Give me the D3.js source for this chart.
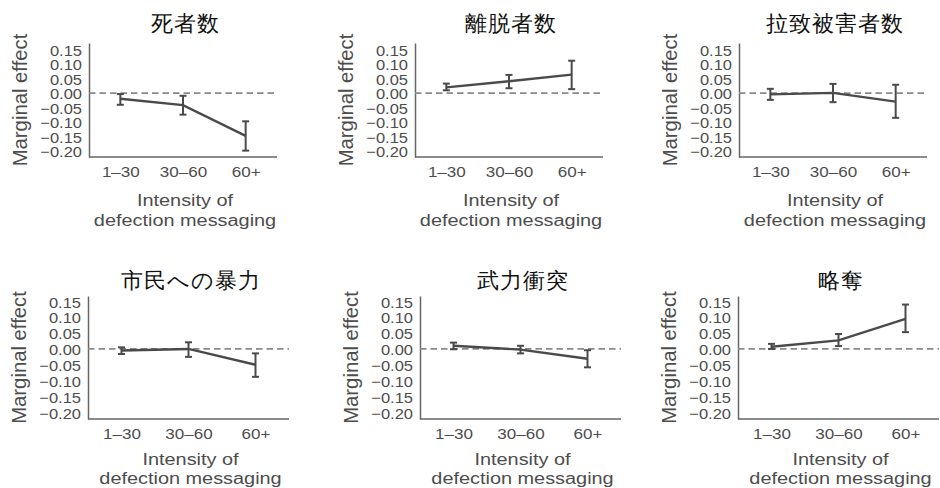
<!DOCTYPE html>
<html><head><meta charset="utf-8">
<script src="https://cdn.jsdelivr.net/npm/d3@7/dist/d3.min.js"></script>
<style>
html,body{margin:0;padding:0;background:#fff;}
svg{display:block;}
text{font-family:"Liberation Sans",Arial,sans-serif;}
</style></head>
<body>
<svg id="chart" width="940" height="488"></svg>
<script>
// ---- data ----
const titles = ["死者数","離脱者数","拉致被害者数","市民への暴力","武力衝突","略奪"];
const categories = ["1–30","30–60","60+"];
const yTicks = [0.15,0.10,0.05,0.00,-0.05,-0.10,-0.15,-0.20];
const xTitleLines = ["Intensity of","defection messaging"];
const yTitle = "Marginal effect";

const meanDeaths    = [-0.019,-0.041,-0.147];
const loDeaths      = [-0.040,-0.074,-0.198];
const hiDeaths      = [-0.003,-0.009,-0.097];
const meanDefect    = [0.020,0.041,0.064];
const loDefect      = [0.010,0.017,0.014];
const hiDefect      = [0.033,0.063,0.112];
const meanAbduct    = [-0.004,0.001,-0.029];
const loAbduct      = [-0.023,-0.031,-0.085];
const hiAbduct      = [0.015,0.032,0.029];
const meanCivil     = [-0.005,0.000,-0.050];
const loCivil       = [-0.016,-0.025,-0.088];
const hiCivil       = [0.005,0.021,-0.014];
const meanClash     = [0.010,-0.002,-0.031];
const loClash       = [-0.001,-0.014,-0.058];
const hiClash       = [0.020,0.010,-0.004];
const meanLoot      = [0.007,0.027,0.095];
const loLoot        = [0.000,0.009,0.053];
const hiLoot        = [0.016,0.047,0.140];

const means = [meanDeaths,meanDefect,meanAbduct,meanCivil,meanClash,meanLoot];
const los   = [loDeaths,loDefect,loAbduct,loCivil,loClash,loLoot];
const his   = [hiDeaths,hiDefect,hiAbduct,hiCivil,hiClash,hiLoot];

// ---- layout ----
const rows = [
  {lefts:[89,415,739], width:188, top:43, height:114, ymin:-0.22, ymax:0.173, titleOff:20, xtOff:49, xtGap:19.9},
  {lefts:[88,420,738], width:201, top:296, height:123, ymin:-0.221, ymax:0.167, titleOff:16, xtOff:45.5, xtGap:19.6}
];
const lineCol = "#4a4a4a", axisCol = "#666", textCol = "#4d4d4d";

const svg = d3.select("#chart");

titles.forEach((title, i) => {
  const r = rows[Math.floor(i/3)];
  const left = r.lefts[i%3];
  const g = svg.append("g").attr("transform", `translate(${left},${r.top})`);
  const w = r.width, h = r.height;

  const x = d3.scalePoint().domain(categories).range([0, w]).padding(0.5);
  const y = d3.scaleLinear().domain([r.ymin, r.ymax]).range([h, 0]);

  // y axis
  const yAxis = d3.axisLeft(y).tickValues(yTicks).tickFormat(d3.format(".2f")).tickSize(0).tickPadding(7);
  const ya = g.append("g").call(yAxis);
  ya.select(".domain").attr("stroke", axisCol).attr("stroke-width", 1.5);
  ya.selectAll("text").attr("fill", textCol).attr("font-size", 15).attr("dy", "0.38em")
    .attr("x", 0).attr("transform", "translate(-7,0) scale(1.1,1)");

  // x axis
  const xAxis = d3.axisBottom(x).tickSize(0).tickPadding(9);
  const xa = g.append("g").attr("transform", `translate(0,${h})`).call(xAxis);
  xa.select(".domain").attr("stroke", axisCol).attr("stroke-width", 1.5).attr("d", `M0,0H${w}`);
  xa.selectAll("text").attr("fill", textCol).attr("font-size", 15.5)
    .attr("y", 0).attr("transform", "translate(0,9) scale(1.1,1)");

  // zero line
  g.append("line")
    .attr("x1", 0).attr("x2", w)
    .attr("y1", y(0)).attr("y2", y(0))
    .attr("stroke", "#8a8a8a").attr("stroke-width", 1.8)
    .attr("stroke-dasharray", "6.5,4");

  const pts = categories.map((c, k) => ({c, m: means[i][k], lo: los[i][k], hi: his[i][k]}));

  // error bars
  const eb = g.append("g").attr("stroke", lineCol).attr("stroke-width", 2).attr("fill", "none");
  pts.forEach(p => {
    const cx = x(p.c);
    eb.append("line").attr("x1", cx).attr("x2", cx).attr("y1", y(p.lo)).attr("y2", y(p.hi));
    eb.append("line").attr("x1", cx-3.5).attr("x2", cx+3.5).attr("y1", y(p.lo)).attr("y2", y(p.lo));
    eb.append("line").attr("x1", cx-3.5).attr("x2", cx+3.5).attr("y1", y(p.hi)).attr("y2", y(p.hi));
  });

  // mean line
  g.append("path")
    .datum(pts)
    .attr("fill", "none").attr("stroke", lineCol).attr("stroke-width", 2.4)
    .attr("d", d3.line().x(p => x(p.c)).y(p => y(p.m)));

  // title
  g.append("text")
    .attr("x", w/2 + 2).attr("y", -r.titleOff)
    .attr("text-anchor", "middle").attr("dominant-baseline", "central")
    .attr("font-family", '"Noto Sans CJK JP","Noto Sans CJK SC",sans-serif')
    .attr("font-size", 22).attr("letter-spacing", 1).attr("fill", "#111")
    .text(title);

  // x title (two lines)
  xTitleLines.forEach((line, k) => {
    g.append("text")
      .attr("text-anchor", "middle").attr("fill", textCol).attr("font-size", 17.3)
      .attr("x", 0).attr("y", 0)
      .attr("transform", `translate(${w/2 + 2},${h + r.xtOff + k*r.xtGap}) scale(1.15,1)`)
      .text(line);
  });

  // y title
  g.append("text")
    .attr("transform", `translate(${-62},${h/2}) rotate(-90)`)
    .attr("text-anchor", "middle").attr("fill", textCol).attr("font-size", 20.3)
    .text(yTitle);
});
</script>
</body></html>
